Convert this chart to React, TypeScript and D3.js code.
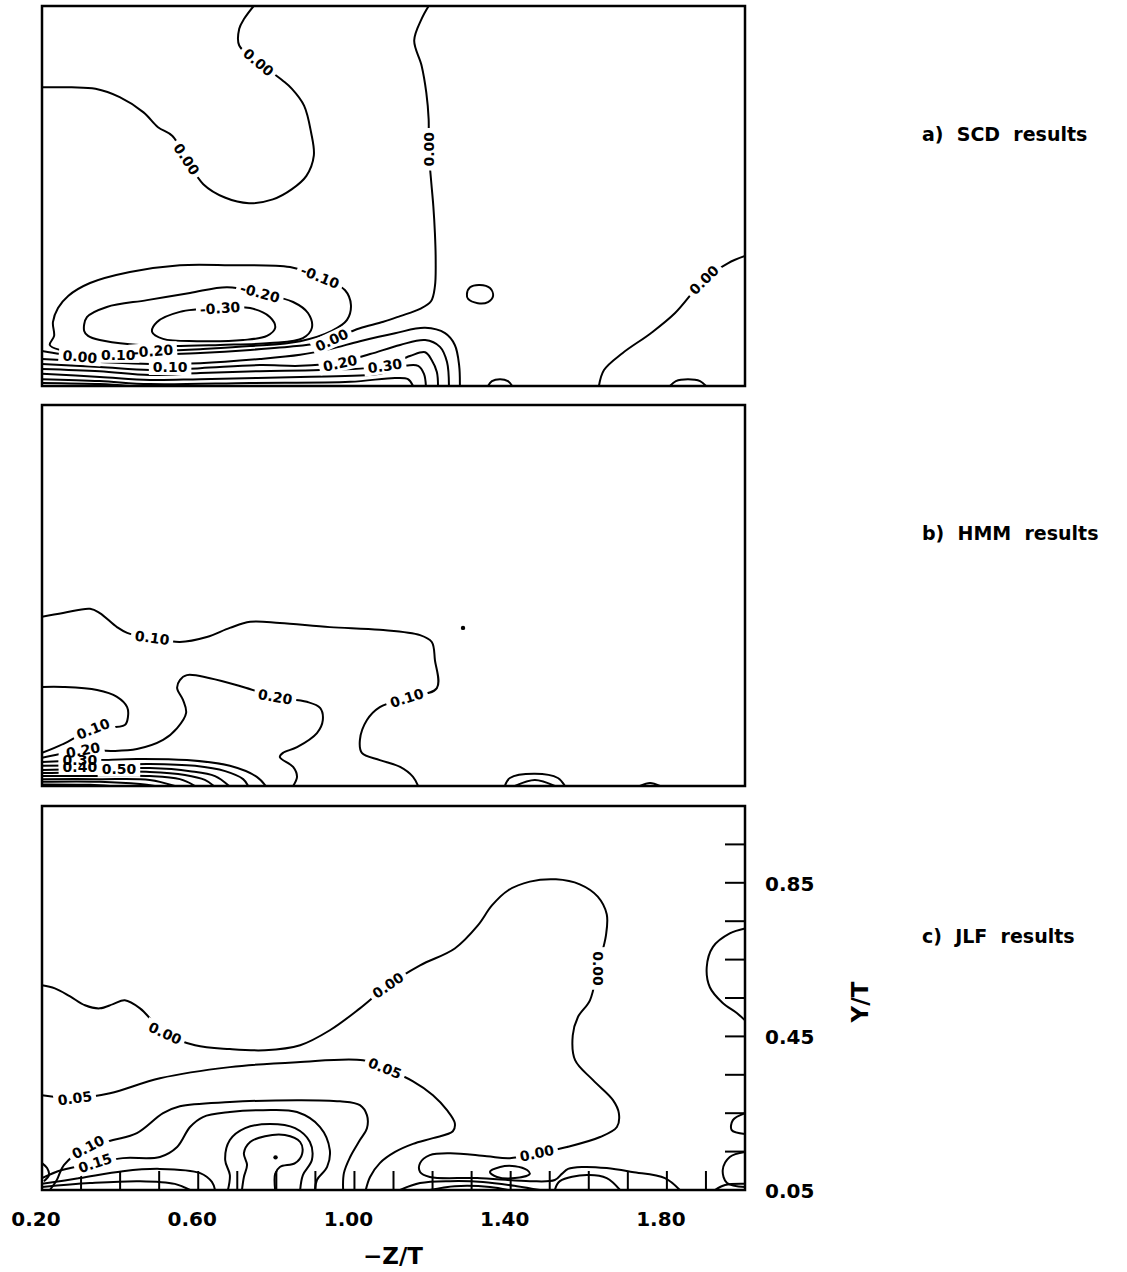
import React, { useEffect, useRef } from "react";
import * as d3 from "d3";

type Pt = [number, number];
type Line = { pts: Pt[]; closed?: boolean };
type Label = [number, number, string, number];

// axes
const X_DOMAIN: Pt = [0.2, 2.0];
const Y_DOMAIN: Pt = [0.05, 1.05];
const X_TICK_LABELS = [0.2, 0.6, 1.0, 1.4, 1.8];
const Y_TICK_LABELS = [0.05, 0.45, 0.85];
const X_MINOR = [0.3, 0.4, 0.5, 0.6, 0.7, 0.8, 0.9, 1.0, 1.1, 1.2, 1.3, 1.4, 1.5, 1.6, 1.7, 1.8, 1.9];
const Y_MINOR = [0.15, 0.25, 0.35, 0.45, 0.55, 0.65, 0.75, 0.85, 0.95];
const TITLES = ["a)  SCD  results", "b)  HMM  results", "c)  JLF  results"];

// a) SCD
const SCD_LINES: Line[] = [
  { pts: [[0.2, 0.836], [0.276, 0.836], [0.337, 0.832], [0.399, 0.81], [0.46, 0.77], [0.497, 0.731], [0.534, 0.708], [0.57, 0.647], [0.613, 0.581], [0.668, 0.546], [0.73, 0.531], [0.791, 0.541], [0.84, 0.568], [0.877, 0.603], [0.896, 0.656], [0.889, 0.717], [0.871, 0.788], [0.84, 0.832], [0.816, 0.854], [0.754, 0.902], [0.705, 0.946], [0.705, 0.99], [0.718, 1.017], [0.742, 1.05]] },
  { pts: [[1.19, 1.05], [1.172, 1.016], [1.153, 0.959], [1.172, 0.893], [1.184, 0.822], [1.19, 0.752], [1.19, 0.673], [1.196, 0.594], [1.202, 0.523], [1.206, 0.453], [1.208, 0.383], [1.206, 0.312], [1.196, 0.273], [1.168, 0.253], [1.117, 0.234], [1.074, 0.219], [1.014, 0.202], [0.976, 0.187], [0.942, 0.171], [0.903, 0.162], [0.852, 0.155], [0.733, 0.145], [0.605, 0.137], [0.476, 0.132], [0.374, 0.126], [0.297, 0.127], [0.246, 0.134], [0.2, 0.142]] },
  { closed: true, pts: [[0.22, 0.158], [0.231, 0.182], [0.228, 0.218], [0.241, 0.255], [0.267, 0.287], [0.323, 0.321], [0.425, 0.35], [0.553, 0.368], [0.681, 0.368], [0.835, 0.363], [0.912, 0.337], [0.976, 0.302], [0.991, 0.263], [0.981, 0.224], [0.942, 0.195], [0.861, 0.168], [0.733, 0.155], [0.605, 0.147], [0.502, 0.142], [0.395, 0.139], [0.297, 0.139], [0.246, 0.145]] },
  { closed: true, pts: [[0.308, 0.195], [0.315, 0.231], [0.366, 0.258], [0.469, 0.276], [0.579, 0.295], [0.674, 0.31], [0.758, 0.295], [0.843, 0.271], [0.881, 0.242], [0.891, 0.203], [0.868, 0.176], [0.784, 0.163], [0.656, 0.158], [0.528, 0.155], [0.425, 0.16], [0.348, 0.171], [0.318, 0.182]] },
  { closed: true, pts: [[0.482, 0.192], [0.494, 0.218], [0.553, 0.245], [0.656, 0.255], [0.733, 0.255], [0.784, 0.231], [0.797, 0.203], [0.776, 0.182], [0.715, 0.171], [0.597, 0.168], [0.51, 0.174]] },
  { pts: [[0.2, 0.121], [0.348, 0.113], [0.476, 0.108], [0.605, 0.11], [0.758, 0.121], [0.861, 0.132], [0.937, 0.147], [1.014, 0.168], [1.104, 0.189], [1.181, 0.203], [1.232, 0.189], [1.257, 0.158], [1.268, 0.105], [1.27, 0.05]] },
  { pts: [[0.2, 0.108], [0.348, 0.1], [0.476, 0.092], [0.605, 0.097], [0.758, 0.105], [0.861, 0.103], [0.963, 0.113], [1.04, 0.134], [1.117, 0.158], [1.181, 0.171], [1.219, 0.153], [1.237, 0.113], [1.242, 0.05]] },
  { pts: [[0.2, 0.095], [0.348, 0.089], [0.476, 0.079], [0.605, 0.084], [0.758, 0.089], [0.912, 0.092], [1.078, 0.103], [1.142, 0.129], [1.181, 0.139], [1.198, 0.118], [1.211, 0.087], [1.214, 0.05]] },
  { pts: [[0.2, 0.082], [0.348, 0.074], [0.476, 0.066], [0.605, 0.068], [0.861, 0.074], [1.065, 0.082], [1.129, 0.103], [1.163, 0.103], [1.178, 0.082], [1.183, 0.05]] },
  { pts: [[0.2, 0.068], [0.348, 0.063], [0.476, 0.055], [0.733, 0.058], [0.989, 0.061], [1.104, 0.071], [1.137, 0.068], [1.15, 0.05]] },
  { pts: [[0.2, 0.058], [0.348, 0.055], [0.425, 0.05]] },
  { closed: true, pts: [[1.288, 0.292], [1.296, 0.31], [1.321, 0.316], [1.347, 0.308], [1.355, 0.287], [1.342, 0.271], [1.316, 0.268], [1.291, 0.279]] },
  { pts: [[1.342, 0.05], [1.352, 0.063], [1.373, 0.068], [1.393, 0.063], [1.404, 0.05]] },
  { pts: [[1.808, 0.05], [1.823, 0.063], [1.854, 0.068], [1.885, 0.063], [1.9, 0.05]] },
  { pts: [[1.626, 0.05], [1.639, 0.092], [1.687, 0.137], [1.759, 0.189], [1.821, 0.242], [1.895, 0.329], [1.956, 0.373], [2.0, 0.392]] },
];
const SCD_LABELS: Label[] = [
  [0.57, 0.647, "0.00", 57], [0.754, 0.902, "0.00", 40], [1.19, 0.673, "0.00", -90],
  [0.912, 0.337, "-0.10", 22], [0.758, 0.295, "-0.20", 15], [0.656, 0.255, "-0.30", -4],
  [0.942, 0.171, "0.00", -25], [0.297, 0.127, "0.00", 5], [0.395, 0.132, "0.10", 0],
  [0.484, 0.142, "-0.20", -4], [0.528, 0.1, "0.10", 0], [0.963, 0.11, "0.20", -12],
  [1.078, 0.103, "0.30", -8], [1.895, 0.329, "0.00", -45],
];
const SCD_DOTS: Pt[] = [];

// b) HMM
const HMM_LINES: Line[] = [
  { pts: [[0.2, 0.494], [0.254, 0.504], [0.323, 0.515], [0.348, 0.504], [0.392, 0.467], [0.418, 0.452], [0.482, 0.439], [0.553, 0.428], [0.622, 0.441], [0.681, 0.465], [0.733, 0.481], [0.809, 0.478], [0.937, 0.467], [1.065, 0.46], [1.168, 0.446], [1.198, 0.428], [1.206, 0.381], [1.211, 0.307], [1.134, 0.281], [1.065, 0.257], [1.032, 0.223], [1.014, 0.171], [1.019, 0.137], [1.065, 0.118], [1.117, 0.1], [1.15, 0.074], [1.163, 0.05]] },
  { pts: [[0.2, 0.31], [0.254, 0.31], [0.341, 0.302], [0.392, 0.284], [0.418, 0.257], [0.42, 0.231], [0.412, 0.21], [0.331, 0.2], [0.254, 0.16], [0.2, 0.137]] },
  { pts: [[0.2, 0.124], [0.305, 0.144], [0.379, 0.142], [0.443, 0.147], [0.51, 0.171], [0.546, 0.202], [0.569, 0.242], [0.561, 0.276], [0.546, 0.307], [0.553, 0.328], [0.571, 0.341], [0.63, 0.333], [0.715, 0.31], [0.797, 0.284], [0.878, 0.271], [0.912, 0.255], [0.919, 0.223], [0.904, 0.189], [0.853, 0.152], [0.817, 0.137], [0.809, 0.126], [0.843, 0.1], [0.853, 0.074], [0.843, 0.05]] },
  { pts: [[0.2, 0.113], [0.272, 0.116], [0.348, 0.118], [0.443, 0.121], [0.571, 0.118], [0.681, 0.103], [0.75, 0.074], [0.773, 0.05]] },
  { pts: [[0.2, 0.103], [0.348, 0.105], [0.476, 0.108], [0.592, 0.103], [0.669, 0.089], [0.715, 0.068], [0.728, 0.05]] },
  { pts: [[0.2, 0.092], [0.348, 0.095], [0.476, 0.097], [0.579, 0.089], [0.643, 0.076], [0.679, 0.05]] },
  { pts: [[0.2, 0.084], [0.348, 0.087], [0.476, 0.087], [0.566, 0.079], [0.617, 0.066], [0.64, 0.05]] },
  { pts: [[0.2, 0.076], [0.348, 0.076], [0.476, 0.076], [0.553, 0.068], [0.592, 0.05]] },
  { pts: [[0.2, 0.068], [0.348, 0.068], [0.476, 0.066], [0.54, 0.05]] },
  { pts: [[0.2, 0.061], [0.348, 0.061], [0.451, 0.055], [0.489, 0.05]] },
  { pts: [[0.2, 0.054], [0.323, 0.053], [0.374, 0.05]] },
  { pts: [[1.385, 0.05], [1.398, 0.071], [1.462, 0.082], [1.521, 0.071], [1.539, 0.05]] },
  { pts: [[1.411, 0.05], [1.462, 0.066], [1.513, 0.05]] },
  { pts: [[1.731, 0.05], [1.757, 0.058], [1.782, 0.05]] },
];
const HMM_LABELS: Label[] = [
  [0.482, 0.439, "0.10", 8], [0.797, 0.284, "0.20", 10], [1.134, 0.281, "0.10", -18],
  [0.331, 0.2, "0.10", -22], [0.305, 0.144, "0.20", -10], [0.297, 0.118, "0.30", 0],
  [0.297, 0.1, "0.40", 0], [0.397, 0.095, "0.50", 0],
];
const HMM_DOTS: Pt[] = [[1.278, 0.465]];

// c) JLF
const JLF_LINES: Line[] = [
  { pts: [[0.2, 0.583], [0.233, 0.575], [0.272, 0.554], [0.31, 0.531], [0.348, 0.523], [0.382, 0.534], [0.412, 0.544], [0.451, 0.523], [0.515, 0.458], [0.592, 0.427], [0.681, 0.417], [0.771, 0.414], [0.861, 0.427], [0.937, 0.466], [1.014, 0.523], [1.086, 0.583], [1.168, 0.635], [1.257, 0.679], [1.316, 0.739], [1.352, 0.791], [1.393, 0.83], [1.449, 0.853], [1.516, 0.859], [1.577, 0.846], [1.623, 0.814], [1.646, 0.768], [1.644, 0.713], [1.623, 0.627], [1.603, 0.544], [1.572, 0.5], [1.559, 0.453], [1.565, 0.388], [1.611, 0.336], [1.662, 0.284], [1.677, 0.25], [1.672, 0.214], [1.629, 0.188], [1.544, 0.162], [1.467, 0.146], [1.398, 0.133], [1.339, 0.138], [1.245, 0.146], [1.193, 0.141], [1.168, 0.12], [1.168, 0.097], [1.193, 0.084], [1.314, 0.081], [1.449, 0.073], [1.513, 0.076], [1.531, 0.092], [1.547, 0.105], [1.585, 0.11], [1.646, 0.107], [1.711, 0.097], [1.795, 0.081], [1.833, 0.05]] },
  { pts: [[0.2, 0.297], [0.284, 0.289], [0.374, 0.302], [0.502, 0.341], [0.681, 0.37], [0.853, 0.383], [1.022, 0.388], [1.078, 0.367], [1.15, 0.333], [1.201, 0.297], [1.237, 0.258], [1.257, 0.224], [1.252, 0.203], [1.201, 0.185], [1.15, 0.17], [1.104, 0.149], [1.065, 0.12], [1.04, 0.084], [1.029, 0.05]] },
  { pts: [[0.22, 0.05], [0.238, 0.076], [0.256, 0.115], [0.318, 0.162], [0.382, 0.18], [0.443, 0.198], [0.51, 0.25], [0.553, 0.268], [0.681, 0.279], [0.853, 0.284], [0.963, 0.281], [1.014, 0.271], [1.032, 0.245], [1.032, 0.211], [1.014, 0.18], [0.989, 0.136], [0.973, 0.094], [0.971, 0.05]] },
  { pts: [[0.2, 0.081], [0.251, 0.102], [0.336, 0.12], [0.407, 0.133], [0.502, 0.136], [0.546, 0.162], [0.579, 0.214], [0.612, 0.24], [0.681, 0.253], [0.766, 0.258], [0.853, 0.253], [0.912, 0.214], [0.937, 0.154], [0.93, 0.11], [0.904, 0.076], [0.899, 0.05]] },
  { pts: [[0.676, 0.05], [0.681, 0.089], [0.669, 0.128], [0.681, 0.18], [0.72, 0.211], [0.784, 0.222], [0.848, 0.211], [0.886, 0.175], [0.891, 0.128], [0.868, 0.089], [0.861, 0.05]] },
  { pts: [[0.712, 0.05], [0.717, 0.084], [0.725, 0.115], [0.717, 0.146], [0.733, 0.175], [0.771, 0.19], [0.822, 0.193], [0.861, 0.175], [0.866, 0.144], [0.848, 0.12], [0.809, 0.11], [0.797, 0.092], [0.797, 0.05]] },
  { pts: [[0.2, 0.12], [0.213, 0.107], [0.218, 0.089], [0.205, 0.073]] },
  { pts: [[0.2, 0.066], [0.297, 0.081], [0.407, 0.099], [0.502, 0.105], [0.605, 0.094], [0.635, 0.071], [0.643, 0.05]] },
  { pts: [[0.2, 0.058], [0.323, 0.068], [0.451, 0.073], [0.54, 0.066], [0.579, 0.05]] },
  { pts: [[2.0, 0.731], [1.961, 0.718], [1.918, 0.683], [1.902, 0.63], [1.91, 0.578], [1.943, 0.537], [1.979, 0.511], [2.0, 0.492]] },
  { pts: [[2.0, 0.25], [1.969, 0.232], [1.966, 0.206], [2.0, 0.196]] },
  { pts: [[2.0, 0.149], [1.961, 0.136], [1.943, 0.102], [1.954, 0.068], [2.0, 0.058]] },
  { pts: [[1.923, 0.05], [1.949, 0.063], [2.0, 0.066]] },
  { pts: [[1.117, 0.05], [1.168, 0.068], [1.245, 0.073], [1.329, 0.071], [1.416, 0.06], [1.475, 0.05]] },
  { pts: [[1.193, 0.05], [1.257, 0.06], [1.347, 0.058], [1.393, 0.05]] },
  { closed: true, pts: [[1.347, 0.097], [1.373, 0.11], [1.411, 0.112], [1.442, 0.102], [1.449, 0.092], [1.411, 0.081], [1.365, 0.084]] },
  { pts: [[1.513, 0.05], [1.526, 0.073], [1.595, 0.089], [1.646, 0.081], [1.68, 0.05]] },
];
const JLF_LABELS: Label[] = [
  [0.515, 0.458, "0.00", 25], [1.086, 0.583, "0.00", -35], [1.623, 0.627, "0.00", 90],
  [1.467, 0.146, "0.00", -12], [0.284, 0.289, "0.05", -8], [1.078, 0.367, "0.05", 22],
  [0.318, 0.162, "0.10", -28], [0.336, 0.12, "0.15", -18],
];
const JLF_DOTS: Pt[] = [[0.798, 0.135]];

const PANELS = [
  { top: 6, bottom: 386, lines: SCD_LINES, labels: SCD_LABELS, dots: SCD_DOTS, titleY: 141, axes: false },
  { top: 405, bottom: 786, lines: HMM_LINES, labels: HMM_LABELS, dots: HMM_DOTS, titleY: 540, axes: false },
  { top: 806, bottom: 1190, lines: JLF_LINES, labels: JLF_LABELS, dots: JLF_DOTS, titleY: 943, axes: true },
];

const LEFT = 42;
const RIGHT = 745;
const FONT = "'DejaVu Sans', sans-serif";

export default function App() {
  const ref = useRef<SVGSVGElement | null>(null);

  useEffect(() => {
    const svg = d3.select(ref.current);
    svg.selectAll("*").remove();
    const x = d3.scaleLinear().domain(X_DOMAIN).range([LEFT, RIGHT]);

    PANELS.forEach((p, i) => {
      const y = d3.scaleLinear().domain(Y_DOMAIN).range([p.bottom, p.top]);
      const clipId = `clip${i}`;
      svg.append("clipPath").attr("id", clipId)
        .append("rect").attr("x", LEFT).attr("y", p.top)
        .attr("width", RIGHT - LEFT).attr("height", p.bottom - p.top);

      const g = svg.append("g").attr("clip-path", `url(#${clipId})`);
      const open = d3.line<Pt>().x(d => x(d[0])).y(d => y(d[1])).curve(d3.curveCatmullRom.alpha(0.5));
      const closed = d3.line<Pt>().x(d => x(d[0])).y(d => y(d[1])).curve(d3.curveCatmullRomClosed.alpha(0.5));

      g.selectAll("path.c").data(p.lines).enter().append("path")
        .attr("d", d => (d.closed ? closed(d.pts) : open(d.pts)) as string)
        .attr("fill", "none").attr("stroke", "#000").attr("stroke-width", 2)
        .attr("stroke-linejoin", "round");

      g.selectAll("circle").data(p.dots).enter().append("circle")
        .attr("cx", d => x(d[0])).attr("cy", d => y(d[1])).attr("r", 2.2).attr("fill", "#000");

      if (p.axes) {
        g.selectAll("line.xt").data(X_MINOR).enter().append("line")
          .attr("x1", d => x(d)).attr("x2", d => x(d))
          .attr("y1", p.bottom).attr("y2", p.bottom - 19)
          .attr("stroke", "#000").attr("stroke-width", 2);
        g.selectAll("line.yt").data(Y_MINOR).enter().append("line")
          .attr("x1", RIGHT).attr("x2", RIGHT - 20)
          .attr("y1", d => y(d)).attr("y2", d => y(d))
          .attr("stroke", "#000").attr("stroke-width", 2);
      }

      // contour labels: white gap behind, text on top
      const bg = g.append("g");
      const fg = g.append("g");
      fg.selectAll("text").data(p.labels).enter().append("text")
        .attr("transform", d => `translate(${x(d[0])},${y(d[1])}) rotate(${d[3]})`)
        .attr("text-anchor", "middle").attr("dy", "0.36em")
        .attr("font-family", FONT).attr("font-size", 14).attr("font-weight", "bold")
        .attr("fill", "#000")
        .text(d => d[2])
        .each(function (d) {
          const w = (this as SVGTextElement).getComputedTextLength();
          bg.append("rect")
            .attr("transform", `translate(${x(d[0])},${y(d[1])}) rotate(${d[3]})`)
            .attr("x", -w / 2 - 4).attr("y", -8).attr("width", w + 8).attr("height", 16)
            .attr("fill", "#fff");
        });

      if (p.axes) {
        svg.selectAll("text.xl").data(X_TICK_LABELS).enter().append("text")
          .attr("class", "xl")
          .attr("x", d => x(d) - 6).attr("y", 1226)
          .attr("text-anchor", "middle").attr("font-family", FONT).attr("font-size", 20)
          .attr("font-weight", "bold")
          .text(d => d.toFixed(2));
        svg.selectAll("text.yl").data(Y_TICK_LABELS).enter().append("text")
          .attr("class", "yl")
          .attr("x", 765).attr("y", d => y(d) + 8)
          .attr("font-family", FONT).attr("font-size", 20).attr("font-weight", "bold")
          .text(d => d.toFixed(2));
        svg.append("text").attr("x", 393).attr("y", 1264)
          .attr("text-anchor", "middle").attr("font-family", FONT).attr("font-size", 23)
          .attr("font-weight", "bold")
          .text("\u2212Z/T");
        svg.append("text")
          .attr("transform", `translate(868,1002) rotate(-90)`)
          .attr("text-anchor", "middle").attr("font-family", FONT).attr("font-size", 23)
          .attr("font-weight", "bold")
          .text("Y/T");
      }

      svg.append("rect").attr("x", LEFT).attr("y", p.top)
        .attr("width", RIGHT - LEFT).attr("height", p.bottom - p.top)
        .attr("fill", "none").attr("stroke", "#000").attr("stroke-width", 2.5);

      svg.append("text").attr("x", 922).attr("y", p.titleY)
        .attr("font-family", FONT).attr("font-size", 19).attr("font-weight", "bold")
        .attr("xml:space", "preserve")
        .text(TITLES[i]);
    });
  }, []);

  return (
    <svg ref={ref} width={1127} height={1272}
      style={{ position: "absolute", left: 0, top: 0, background: "#fff" }} />
  );
}
